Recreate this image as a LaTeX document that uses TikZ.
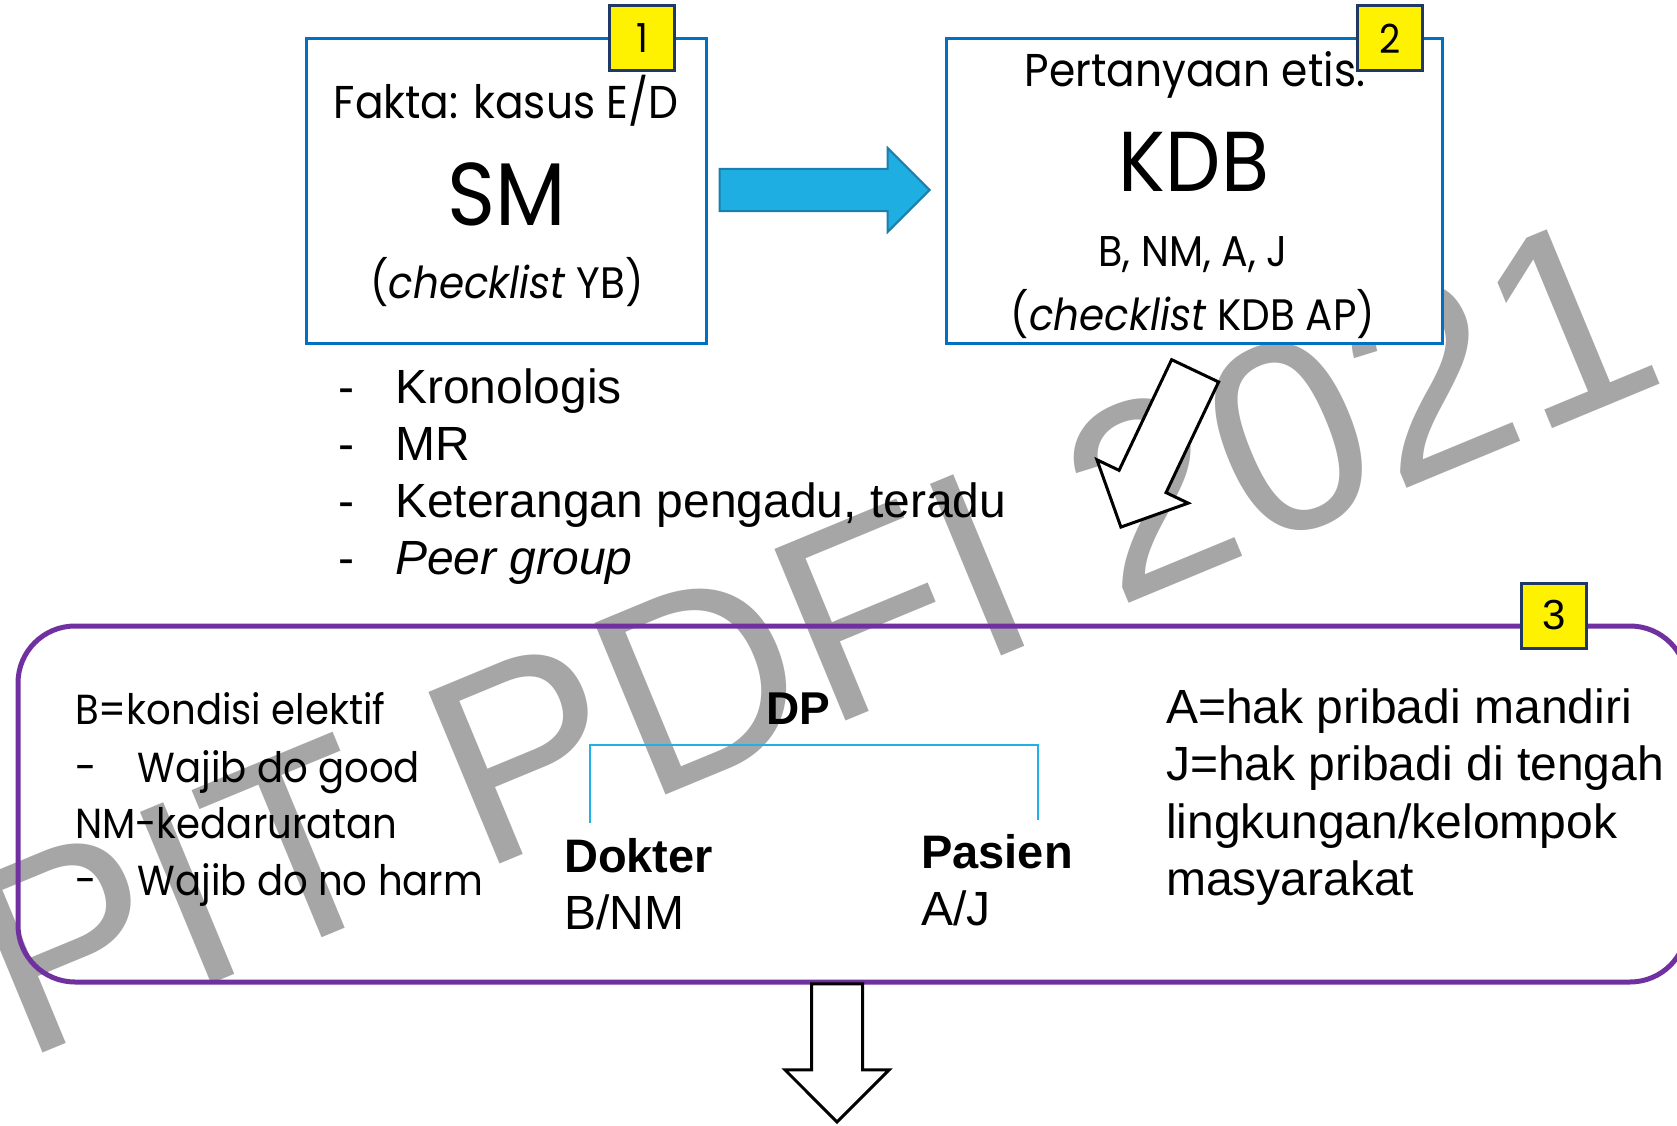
\documentclass[tikz,border=0pt]{standalone}
\usepackage{fontspec}
\setmainfont{Liberation Sans}
\newfontfamily\fut[FakeStretch=0.92]{Poppins}
\usetikzlibrary{shapes.arrows}
\definecolor{boxblue}{HTML}{0070C0}
\definecolor{arrblue}{HTML}{1FAEE2}
\definecolor{arredge}{HTML}{1B7FAD}
\definecolor{purp}{HTML}{7030A0}
\definecolor{wmgray}{HTML}{A6A6A6}
\definecolor{navy}{HTML}{1F3864}
\definecolor{brk}{HTML}{22B0E6}
\newcommand{\fs}[1]{\fontsize{#1}{#1}\selectfont}
\tikzset{
  qbox/.style={draw=boxblue, line width=3, fill=white, inner sep=0},
  badge/.style={draw=navy, line width=3, fill=yellow, inner sep=0, minimum width=65, minimum height=65},
  txt/.style={inner sep=0, anchor=base},
  txtw/.style={inner sep=0, anchor=base west},
  wmark/.style={inner sep=0, anchor=base west, rotate=22.5, text=wmgray, font=\fs{270}},
  whitearrow/.style={single arrow, draw=black, line width=3, fill=white, inner sep=0, minimum width=0, single arrow tip angle=90},
}
\begin{document}
\begin{tikzpicture}[x=1pt,y=-1pt]
\useasboundingbox (0,0) rectangle (1677,1126);
\clip (0,0) rectangle (1677,1126);
% watermark
\node[wmark] (wm) at (22,1062) {PIT PDFI 2021};
% box 1
\node[qbox, minimum width=400, minimum height=304] (b1) at (506,191) {};
\node[txt, font=\fut\fs{46}] (t1a) at (506,119) {Fakta: kasus E/D};
\node[txt, font=\fut\fs{89}] (t1b) at (507,225) {SM};
\node[txt, font=\fut\fs{44}] (t1c) at (507,298) {(\textit{checklist} YB)};
\node[badge, font=\fut\fs{40}] (n1) at (642,38.5) {1};
% box 2
\node[qbox, minimum width=496, minimum height=304] (b2) at (1194,191) {};
\node[txt, font=\fut\fs{46}] (t2a) at (1195,87) {Pertanyaan etis:};
\node[txt, font=\fut\fs{85}] (t2b) at (1194,192) {KDB};
\node[txt, font=\fut\fs{43}] (t2c) at (1193,266) {B, NM, A, J};
\node[txt, font=\fut\fs{44}] (t2d) at (1193,330) {(\textit{checklist} KDB AP)};
\node[badge, font=\fut\fs{40}] (n2) at (1390,38.5) {2};
% blue arrow between boxes
\node[single arrow, draw=arredge, line width=2, fill=arrblue, inner sep=0, inner ysep=20,
      minimum width=0, minimum height=210, single arrow head extend=21,
      single arrow tip angle=90, anchor=tip] (ar1) at (931,190) {};
% diagonal white arrow
\node[whitearrow, inner ysep=24.5, single arrow head extend=24.5, minimum height=173,
      rotate=244.6, anchor=tip] (ar2) at (1120,529) {};
% bullet list
\foreach \y/\t [count=\i] in {403/Kronologis, 460/MR, 517/{Keterangan pengadu, teradu}, 574/{\textit{Peer group}}}{
  \node[txtw, font=\fs{48}] (bd\i) at (338,\y) {-};
  \node[txtw, font=\fs{48}] (bt\i) at (395,\y) {\t};
}
% purple box
\node[draw=purp, line width=5, rounded corners=57, minimum width=1669, minimum height=356, inner sep=0] (b3) at (852.5,804) {};
\node[badge, font=\fs{42}] (n3) at (1554,615.5) {3};
% left text
\node[txtw, font=\fut\fs{42}] (l1) at (75,724) {B=kondisi elektif};
\node[txtw, font=\fut\fs{42}] (l2d) at (75,782) {-};
\node[txtw, font=\fut\fs{42}] (l2) at (137.5,782) {Wajib do good};
\node[txtw, font=\fut\fs{42}] (l3) at (75,838) {NM-kedaruratan};
\node[txtw, font=\fut\fs{42}] (l4d) at (75,895) {-};
\node[txtw, font=\fut\fs{42}] (l4) at (137.5,895) {Wajib do no harm};
% DP
\node[txt, font=\bfseries\fs{46}] (dp) at (798,724) {DP};
\node[txtw, font=\bfseries\fs{47}] (dok) at (564,872) {Dokter};
\node[txtw, font=\fs{48}] (dokb) at (564,929) {B/NM};
\node[txtw, font=\bfseries\fs{47}] (pas) at (921,868) {Pasien};
\node[txtw, font=\fs{48}] (pasb) at (921,925) {A/J};
\coordinate (bl) at (590,823);
\coordinate (br) at (1038,820);
\draw[brk, line width=2] (bl) -- (bl |- 0,745) -- (br |- 0,745) -- (br);
% right text
\foreach \y/\t [count=\i] in {723/{A=hak pribadi mandiri}, 780/{J=hak pribadi di tengah}, 838/{lingkungan/kelompok}, 895/masyarakat}{
  \node[txtw, font=\fs{48}] (r\i) at (1166,\y) {\t};
}
% down white arrow
\node[whitearrow, inner ysep=24, single arrow head extend=26.5, minimum height=138,
      rotate=270, anchor=tip] (ar3) at (837,1124) {};
\end{tikzpicture}
\end{document}
